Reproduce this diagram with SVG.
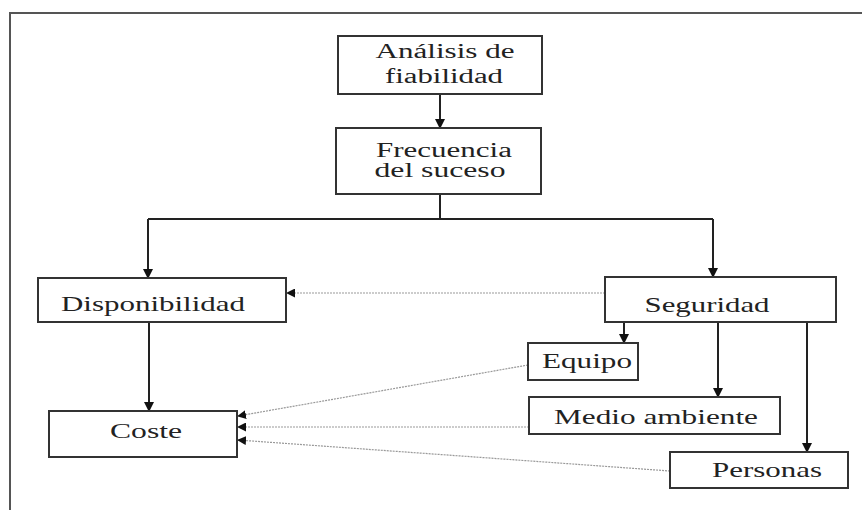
<svg xmlns="http://www.w3.org/2000/svg" width="862" height="510" viewBox="0 0 862 510">
<style>
.box{fill:#fff;stroke:#333;stroke-width:2}
.t{font-family:"Liberation Serif","Times New Roman",serif;font-size:22px;fill:#222;text-anchor:middle}
.t2{font-size:20px}
.s{stroke:#222;stroke-width:2;fill:none}
.d{stroke:#999;stroke-width:1.2;stroke-dasharray:2 1;fill:none}
</style>
<defs>
<marker id="a" markerWidth="10" markerHeight="10" refX="9" refY="5" orient="auto" markerUnits="userSpaceOnUse"><path d="M0,0 L10,5 L0,10 z" fill="#111"/></marker>
<marker id="b" markerWidth="9" markerHeight="9" refX="8" refY="4.5" orient="auto" markerUnits="userSpaceOnUse"><path d="M0,0 L9,4.5 L0,9 z" fill="#111"/></marker>
</defs>
<rect width="862" height="510" fill="#fff"/>
<path d="M10,510 V13 H862" fill="none" stroke="#555" stroke-width="2"/>
<g id="connectors">
<path class="s" d="M440,94 V128" marker-end="url(#a)"/>
<path class="s" d="M440,194 V219"/>
<path class="s" d="M148,219 H713"/>
<path class="s" d="M148,219 V278" marker-end="url(#a)"/>
<path class="s" d="M713,219 V277" marker-end="url(#a)"/>
<path class="s" d="M149,322 V411" marker-end="url(#a)"/>
<path class="s" d="M624,322 V343" marker-end="url(#a)"/>
<path class="s" d="M718,322 V397" marker-end="url(#a)"/>
<path class="s" d="M807,322 V452" marker-end="url(#a)"/>
<path class="d" d="M605,293 H287" marker-end="url(#b)"/>
<path class="d" d="M528,365 L238,416" marker-end="url(#b)"/>
<path class="d" d="M529,427 H238" marker-end="url(#b)"/>
<path class="d" d="M670,471 L238,440" marker-end="url(#b)"/>
</g>
<g id="analisis"><rect class="box" x="338" y="36" width="204" height="58"/><text class="t t2" x="445" y="58" textLength="139" lengthAdjust="spacingAndGlyphs">Análisis de</text><text class="t t2" x="444" y="83" textLength="118" lengthAdjust="spacingAndGlyphs">fiabilidad</text></g>
<g id="frecuencia"><rect class="box" x="336" y="128" width="205" height="66"/><text class="t t2" x="444" y="157" textLength="136" lengthAdjust="spacingAndGlyphs">Frecuencia</text><text class="t t2" x="440" y="177" textLength="131" lengthAdjust="spacingAndGlyphs">del suceso</text></g>
<g id="disponibilidad"><rect class="box" x="38" y="278" width="248" height="44"/><text class="t" x="153" y="311" textLength="184" lengthAdjust="spacingAndGlyphs">Disponibilidad</text></g>
<g id="seguridad"><rect class="box" x="605" y="277" width="231" height="45"/><text class="t" x="707" y="312" textLength="125" lengthAdjust="spacingAndGlyphs">Seguridad</text></g>
<g id="coste"><rect class="box" x="49" y="411" width="188" height="46"/><text class="t" x="146" y="438" textLength="72" lengthAdjust="spacingAndGlyphs">Coste</text></g>
<g id="equipo"><rect class="box" x="528" y="343" width="110" height="37"/><text class="t" x="587" y="368" textLength="90" lengthAdjust="spacingAndGlyphs">Equipo</text></g>
<g id="medio"><rect class="box" x="529" y="397" width="251" height="37"/><text class="t" x="656" y="424" textLength="204" lengthAdjust="spacingAndGlyphs">Medio ambiente</text></g>
<g id="personas"><rect class="box" x="670" y="452" width="178" height="36"/><text class="t" x="767" y="477" textLength="110" lengthAdjust="spacingAndGlyphs">Personas</text></g>
</svg>
